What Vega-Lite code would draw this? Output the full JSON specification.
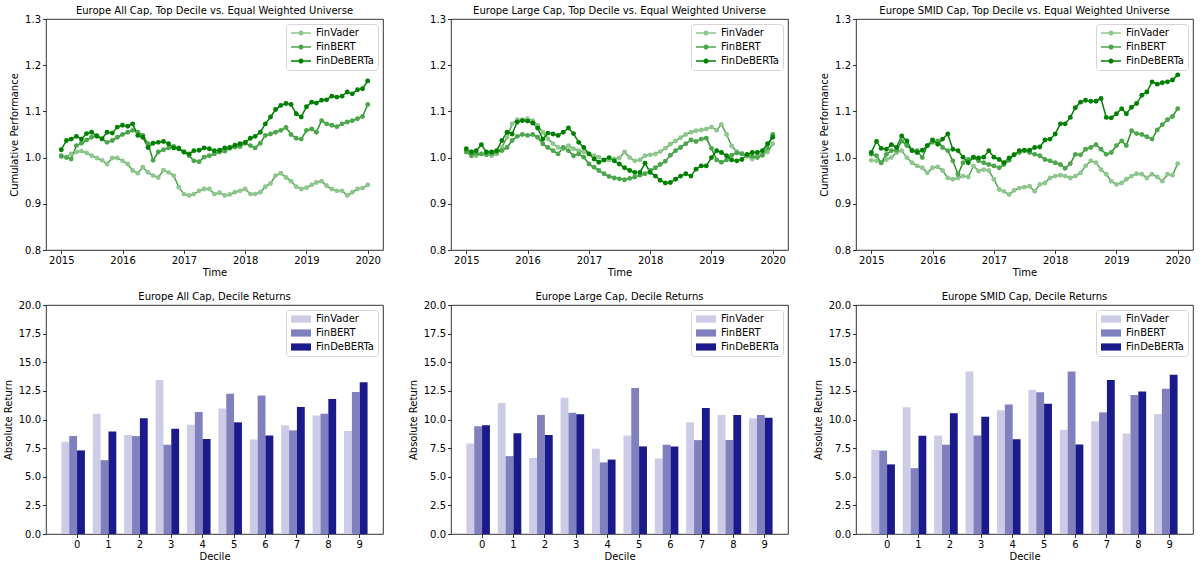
{
  "$schema": "https://vega.github.io/schema/vega-lite/v6.json",
  "background": "white",
  "padding": {"left": 2, "top": 5, "right": 2, "bottom": 2},
  "columns": 3,
  "bounds": "flush",
  "spacing": {"row": 55, "column": 68},
  "resolve": {"scale": {"color": "independent", "fill": "independent", "stroke": "independent", "opacity": "independent", "xOffset": "independent"}, "legend": {"color": "independent", "fill": "independent", "stroke": "independent", "opacity": "independent"}},
  "datasets": {
    "all": [
      {"date": "2015-01-01", "FinVader": 1.002, "FinBERT": 1.004, "FinDeBERTa": 1.017},
      {"date": "2015-02-01", "FinVader": 1.001, "FinBERT": 1.000, "FinDeBERTa": 1.037},
      {"date": "2015-03-01", "FinVader": 1.008, "FinBERT": 0.997, "FinDeBERTa": 1.040},
      {"date": "2015-04-01", "FinVader": 1.012, "FinBERT": 1.026, "FinDeBERTa": 1.046},
      {"date": "2015-05-01", "FinVader": 1.014, "FinBERT": 1.031, "FinDeBERTa": 1.040},
      {"date": "2015-06-01", "FinVader": 1.010, "FinBERT": 1.038, "FinDeBERTa": 1.052},
      {"date": "2015-07-01", "FinVader": 1.004, "FinBERT": 1.044, "FinDeBERTa": 1.055},
      {"date": "2015-08-01", "FinVader": 0.999, "FinBERT": 1.048, "FinDeBERTa": 1.046},
      {"date": "2015-09-01", "FinVader": 0.994, "FinBERT": 1.040, "FinDeBERTa": 1.041},
      {"date": "2015-10-01", "FinVader": 0.986, "FinBERT": 1.033, "FinDeBERTa": 1.055},
      {"date": "2015-11-01", "FinVader": 0.999, "FinBERT": 1.037, "FinDeBERTa": 1.053},
      {"date": "2015-12-01", "FinVader": 0.999, "FinBERT": 1.044, "FinDeBERTa": 1.066},
      {"date": "2016-01-01", "FinVader": 0.993, "FinBERT": 1.050, "FinDeBERTa": 1.070},
      {"date": "2016-02-01", "FinVader": 0.986, "FinBERT": 1.055, "FinDeBERTa": 1.068},
      {"date": "2016-03-01", "FinVader": 0.972, "FinBERT": 1.059, "FinDeBERTa": 1.073},
      {"date": "2016-04-01", "FinVader": 0.966, "FinBERT": 1.055, "FinDeBERTa": 1.048},
      {"date": "2016-05-01", "FinVader": 0.979, "FinBERT": 1.048, "FinDeBERTa": 1.044},
      {"date": "2016-06-01", "FinVader": 0.968, "FinBERT": 1.030, "FinDeBERTa": 1.022},
      {"date": "2016-07-01", "FinVader": 0.961, "FinBERT": 0.994, "FinDeBERTa": 1.031},
      {"date": "2016-08-01", "FinVader": 0.957, "FinBERT": 1.012, "FinDeBERTa": 1.033},
      {"date": "2016-09-01", "FinVader": 0.973, "FinBERT": 1.017, "FinDeBERTa": 1.035},
      {"date": "2016-10-01", "FinVader": 0.968, "FinBERT": 1.021, "FinDeBERTa": 1.030},
      {"date": "2016-11-01", "FinVader": 0.961, "FinBERT": 1.024, "FinDeBERTa": 1.021},
      {"date": "2016-12-01", "FinVader": 0.936, "FinBERT": 1.021, "FinDeBERTa": 1.019},
      {"date": "2017-01-01", "FinVader": 0.921, "FinBERT": 1.012, "FinDeBERTa": 1.012},
      {"date": "2017-02-01", "FinVader": 0.918, "FinBERT": 1.004, "FinDeBERTa": 1.008},
      {"date": "2017-03-01", "FinVader": 0.921, "FinBERT": 0.993, "FinDeBERTa": 1.015},
      {"date": "2017-04-01", "FinVader": 0.928, "FinBERT": 0.991, "FinDeBERTa": 1.016},
      {"date": "2017-05-01", "FinVader": 0.932, "FinBERT": 1.001, "FinDeBERTa": 1.021},
      {"date": "2017-06-01", "FinVader": 0.932, "FinBERT": 1.004, "FinDeBERTa": 1.019},
      {"date": "2017-07-01", "FinVader": 0.921, "FinBERT": 1.008, "FinDeBERTa": 1.015},
      {"date": "2017-08-01", "FinVader": 0.924, "FinBERT": 1.012, "FinDeBERTa": 1.016},
      {"date": "2017-09-01", "FinVader": 0.918, "FinBERT": 1.014, "FinDeBERTa": 1.021},
      {"date": "2017-10-01", "FinVader": 0.920, "FinBERT": 1.020, "FinDeBERTa": 1.022},
      {"date": "2017-11-01", "FinVader": 0.925, "FinBERT": 1.023, "FinDeBERTa": 1.027},
      {"date": "2017-12-01", "FinVader": 0.928, "FinBERT": 1.024, "FinDeBERTa": 1.030},
      {"date": "2018-01-01", "FinVader": 0.932, "FinBERT": 1.031, "FinDeBERTa": 1.033},
      {"date": "2018-02-01", "FinVader": 0.921, "FinBERT": 1.026, "FinDeBERTa": 1.042},
      {"date": "2018-03-01", "FinVader": 0.921, "FinBERT": 1.021, "FinDeBERTa": 1.046},
      {"date": "2018-04-01", "FinVader": 0.925, "FinBERT": 1.031, "FinDeBERTa": 1.055},
      {"date": "2018-05-01", "FinVader": 0.937, "FinBERT": 1.048, "FinDeBERTa": 1.073},
      {"date": "2018-06-01", "FinVader": 0.944, "FinBERT": 1.051, "FinDeBERTa": 1.088},
      {"date": "2018-07-01", "FinVader": 0.961, "FinBERT": 1.055, "FinDeBERTa": 1.104},
      {"date": "2018-08-01", "FinVader": 0.966, "FinBERT": 1.059, "FinDeBERTa": 1.113},
      {"date": "2018-09-01", "FinVader": 0.957, "FinBERT": 1.065, "FinDeBERTa": 1.117},
      {"date": "2018-10-01", "FinVader": 0.949, "FinBERT": 1.050, "FinDeBERTa": 1.115},
      {"date": "2018-11-01", "FinVader": 0.937, "FinBERT": 1.042, "FinDeBERTa": 1.095},
      {"date": "2018-12-01", "FinVader": 0.932, "FinBERT": 1.040, "FinDeBERTa": 1.088},
      {"date": "2019-01-01", "FinVader": 0.935, "FinBERT": 1.059, "FinDeBERTa": 1.110},
      {"date": "2019-02-01", "FinVader": 0.941, "FinBERT": 1.062, "FinDeBERTa": 1.120},
      {"date": "2019-03-01", "FinVader": 0.946, "FinBERT": 1.055, "FinDeBERTa": 1.118},
      {"date": "2019-04-01", "FinVader": 0.949, "FinBERT": 1.080, "FinDeBERTa": 1.124},
      {"date": "2019-05-01", "FinVader": 0.939, "FinBERT": 1.073, "FinDeBERTa": 1.125},
      {"date": "2019-06-01", "FinVader": 0.932, "FinBERT": 1.070, "FinDeBERTa": 1.133},
      {"date": "2019-07-01", "FinVader": 0.928, "FinBERT": 1.067, "FinDeBERTa": 1.131},
      {"date": "2019-08-01", "FinVader": 0.928, "FinBERT": 1.073, "FinDeBERTa": 1.133},
      {"date": "2019-09-01", "FinVader": 0.918, "FinBERT": 1.077, "FinDeBERTa": 1.142},
      {"date": "2019-10-01", "FinVader": 0.925, "FinBERT": 1.080, "FinDeBERTa": 1.138},
      {"date": "2019-11-01", "FinVader": 0.932, "FinBERT": 1.084, "FinDeBERTa": 1.147},
      {"date": "2019-12-01", "FinVader": 0.934, "FinBERT": 1.089, "FinDeBERTa": 1.149},
      {"date": "2020-01-01", "FinVader": 0.941, "FinBERT": 1.115, "FinDeBERTa": 1.166}
    ],
    "large": [
      {"date": "2015-01-01", "FinVader": 1.015, "FinBERT": 1.012, "FinDeBERTa": 1.019},
      {"date": "2015-02-01", "FinVader": 1.012, "FinBERT": 1.004, "FinDeBERTa": 1.012},
      {"date": "2015-03-01", "FinVader": 1.004, "FinBERT": 1.009, "FinDeBERTa": 1.015},
      {"date": "2015-04-01", "FinVader": 1.008, "FinBERT": 1.008, "FinDeBERTa": 1.028},
      {"date": "2015-05-01", "FinVader": 1.008, "FinBERT": 1.006, "FinDeBERTa": 1.012},
      {"date": "2015-06-01", "FinVader": 1.004, "FinBERT": 1.009, "FinDeBERTa": 1.012},
      {"date": "2015-07-01", "FinVader": 1.008, "FinBERT": 1.012, "FinDeBERTa": 1.015},
      {"date": "2015-08-01", "FinVader": 1.022, "FinBERT": 1.015, "FinDeBERTa": 1.037},
      {"date": "2015-09-01", "FinVader": 1.044, "FinBERT": 1.022, "FinDeBERTa": 1.055},
      {"date": "2015-10-01", "FinVader": 1.073, "FinBERT": 1.037, "FinDeBERTa": 1.051},
      {"date": "2015-11-01", "FinVader": 1.082, "FinBERT": 1.046, "FinDeBERTa": 1.077},
      {"date": "2015-12-01", "FinVader": 1.082, "FinBERT": 1.050, "FinDeBERTa": 1.080},
      {"date": "2016-01-01", "FinVader": 1.084, "FinBERT": 1.048, "FinDeBERTa": 1.079},
      {"date": "2016-02-01", "FinVader": 1.080, "FinBERT": 1.050, "FinDeBERTa": 1.075},
      {"date": "2016-03-01", "FinVader": 1.070, "FinBERT": 1.044, "FinDeBERTa": 1.064},
      {"date": "2016-04-01", "FinVader": 1.055, "FinBERT": 1.030, "FinDeBERTa": 1.040},
      {"date": "2016-05-01", "FinVader": 1.041, "FinBERT": 1.022, "FinDeBERTa": 1.053},
      {"date": "2016-06-01", "FinVader": 1.030, "FinBERT": 1.015, "FinDeBERTa": 1.051},
      {"date": "2016-07-01", "FinVader": 1.022, "FinBERT": 1.008, "FinDeBERTa": 1.048},
      {"date": "2016-08-01", "FinVader": 1.019, "FinBERT": 1.022, "FinDeBERTa": 1.055},
      {"date": "2016-09-01", "FinVader": 1.026, "FinBERT": 1.015, "FinDeBERTa": 1.064},
      {"date": "2016-10-01", "FinVader": 1.019, "FinBERT": 1.004, "FinDeBERTa": 1.052},
      {"date": "2016-11-01", "FinVader": 1.015, "FinBERT": 1.008, "FinDeBERTa": 1.033},
      {"date": "2016-12-01", "FinVader": 1.012, "FinBERT": 1.001, "FinDeBERTa": 1.022},
      {"date": "2017-01-01", "FinVader": 1.008, "FinBERT": 0.986, "FinDeBERTa": 1.008},
      {"date": "2017-02-01", "FinVader": 1.004, "FinBERT": 0.979, "FinDeBERTa": 0.997},
      {"date": "2017-03-01", "FinVader": 1.001, "FinBERT": 0.972, "FinDeBERTa": 0.990},
      {"date": "2017-04-01", "FinVader": 0.994, "FinBERT": 0.965, "FinDeBERTa": 0.995},
      {"date": "2017-05-01", "FinVader": 0.995, "FinBERT": 0.959, "FinDeBERTa": 1.000},
      {"date": "2017-06-01", "FinVader": 0.997, "FinBERT": 0.956, "FinDeBERTa": 0.993},
      {"date": "2017-07-01", "FinVader": 0.999, "FinBERT": 0.954, "FinDeBERTa": 0.986},
      {"date": "2017-08-01", "FinVader": 1.012, "FinBERT": 0.952, "FinDeBERTa": 0.978},
      {"date": "2017-09-01", "FinVader": 1.000, "FinBERT": 0.955, "FinDeBERTa": 0.972},
      {"date": "2017-10-01", "FinVader": 0.993, "FinBERT": 0.958, "FinDeBERTa": 0.968},
      {"date": "2017-11-01", "FinVader": 0.995, "FinBERT": 0.962, "FinDeBERTa": 0.968},
      {"date": "2017-12-01", "FinVader": 1.004, "FinBERT": 0.965, "FinDeBERTa": 0.988},
      {"date": "2018-01-01", "FinVader": 1.006, "FinBERT": 0.972, "FinDeBERTa": 0.968},
      {"date": "2018-02-01", "FinVader": 1.008, "FinBERT": 0.978, "FinDeBERTa": 0.960},
      {"date": "2018-03-01", "FinVader": 1.013, "FinBERT": 0.985, "FinDeBERTa": 0.951},
      {"date": "2018-04-01", "FinVader": 1.020, "FinBERT": 0.992, "FinDeBERTa": 0.945},
      {"date": "2018-05-01", "FinVader": 1.029, "FinBERT": 1.005, "FinDeBERTa": 0.946},
      {"date": "2018-06-01", "FinVader": 1.036, "FinBERT": 1.015, "FinDeBERTa": 0.953},
      {"date": "2018-07-01", "FinVader": 1.043, "FinBERT": 1.022, "FinDeBERTa": 0.960},
      {"date": "2018-08-01", "FinVader": 1.050, "FinBERT": 1.030, "FinDeBERTa": 0.965},
      {"date": "2018-09-01", "FinVader": 1.055, "FinBERT": 1.038, "FinDeBERTa": 0.960},
      {"date": "2018-10-01", "FinVader": 1.058, "FinBERT": 1.035, "FinDeBERTa": 0.975},
      {"date": "2018-11-01", "FinVader": 1.060, "FinBERT": 1.040, "FinDeBERTa": 0.982},
      {"date": "2018-12-01", "FinVader": 1.062, "FinBERT": 1.042, "FinDeBERTa": 0.982},
      {"date": "2019-01-01", "FinVader": 1.066, "FinBERT": 1.020, "FinDeBERTa": 1.000},
      {"date": "2019-02-01", "FinVader": 1.059, "FinBERT": 0.995, "FinDeBERTa": 1.015},
      {"date": "2019-03-01", "FinVader": 1.072, "FinBERT": 0.990, "FinDeBERTa": 1.011},
      {"date": "2019-04-01", "FinVader": 1.050, "FinBERT": 0.995, "FinDeBERTa": 1.004},
      {"date": "2019-05-01", "FinVader": 1.025, "FinBERT": 1.005, "FinDeBERTa": 0.995},
      {"date": "2019-06-01", "FinVader": 1.013, "FinBERT": 1.010, "FinDeBERTa": 0.993},
      {"date": "2019-07-01", "FinVader": 1.009, "FinBERT": 1.008, "FinDeBERTa": 0.996},
      {"date": "2019-08-01", "FinVader": 1.003, "FinBERT": 1.005, "FinDeBERTa": 1.007},
      {"date": "2019-09-01", "FinVader": 0.997, "FinBERT": 1.003, "FinDeBERTa": 1.011},
      {"date": "2019-10-01", "FinVader": 1.004, "FinBERT": 1.000, "FinDeBERTa": 1.011},
      {"date": "2019-11-01", "FinVader": 1.008, "FinBERT": 1.005, "FinDeBERTa": 1.015},
      {"date": "2019-12-01", "FinVader": 1.012, "FinBERT": 1.020, "FinDeBERTa": 1.030},
      {"date": "2020-01-01", "FinVader": 1.030, "FinBERT": 1.050, "FinDeBERTa": 1.044}
    ],
    "smid": [
      {"date": "2015-01-01", "FinVader": 0.994, "FinBERT": 1.007, "FinDeBERTa": 1.011},
      {"date": "2015-02-01", "FinVader": 0.993, "FinBERT": 1.004, "FinDeBERTa": 1.035},
      {"date": "2015-03-01", "FinVader": 0.989, "FinBERT": 0.989, "FinDeBERTa": 1.020},
      {"date": "2015-04-01", "FinVader": 0.996, "FinBERT": 1.007, "FinDeBERTa": 1.018},
      {"date": "2015-05-01", "FinVader": 1.000, "FinBERT": 1.015, "FinDeBERTa": 1.028},
      {"date": "2015-06-01", "FinVader": 1.011, "FinBERT": 1.016, "FinDeBERTa": 1.022},
      {"date": "2015-07-01", "FinVader": 1.015, "FinBERT": 1.036, "FinDeBERTa": 1.047},
      {"date": "2015-08-01", "FinVader": 1.000, "FinBERT": 1.026, "FinDeBERTa": 1.036},
      {"date": "2015-09-01", "FinVader": 0.989, "FinBERT": 1.016, "FinDeBERTa": 1.015},
      {"date": "2015-10-01", "FinVader": 0.982, "FinBERT": 1.015, "FinDeBERTa": 1.011},
      {"date": "2015-11-01", "FinVader": 0.978, "FinBERT": 1.000, "FinDeBERTa": 1.016},
      {"date": "2015-12-01", "FinVader": 0.967, "FinBERT": 1.026, "FinDeBERTa": 1.026},
      {"date": "2016-01-01", "FinVader": 0.978, "FinBERT": 1.033, "FinDeBERTa": 1.038},
      {"date": "2016-02-01", "FinVader": 0.980, "FinBERT": 1.036, "FinDeBERTa": 1.029},
      {"date": "2016-03-01", "FinVader": 0.972, "FinBERT": 1.022, "FinDeBERTa": 1.040},
      {"date": "2016-04-01", "FinVader": 0.956, "FinBERT": 1.015, "FinDeBERTa": 1.051},
      {"date": "2016-05-01", "FinVader": 0.953, "FinBERT": 0.993, "FinDeBERTa": 1.018},
      {"date": "2016-06-01", "FinVader": 0.956, "FinBERT": 0.964, "FinDeBERTa": 1.015},
      {"date": "2016-07-01", "FinVader": 0.960, "FinBERT": 0.989, "FinDeBERTa": 1.001},
      {"date": "2016-08-01", "FinVader": 0.958, "FinBERT": 0.996, "FinDeBERTa": 0.989},
      {"date": "2016-09-01", "FinVader": 0.982, "FinBERT": 1.000, "FinDeBERTa": 1.001},
      {"date": "2016-10-01", "FinVader": 0.971, "FinBERT": 0.993, "FinDeBERTa": 0.999},
      {"date": "2016-11-01", "FinVader": 0.974, "FinBERT": 0.989, "FinDeBERTa": 1.001},
      {"date": "2016-12-01", "FinVader": 0.972, "FinBERT": 0.985, "FinDeBERTa": 1.015},
      {"date": "2017-01-01", "FinVader": 0.953, "FinBERT": 0.982, "FinDeBERTa": 1.001},
      {"date": "2017-02-01", "FinVader": 0.931, "FinBERT": 0.978, "FinDeBERTa": 0.996},
      {"date": "2017-03-01", "FinVader": 0.927, "FinBERT": 0.985, "FinDeBERTa": 0.989},
      {"date": "2017-04-01", "FinVader": 0.920, "FinBERT": 0.994, "FinDeBERTa": 0.999},
      {"date": "2017-05-01", "FinVader": 0.929, "FinBERT": 1.007, "FinDeBERTa": 1.006},
      {"date": "2017-06-01", "FinVader": 0.934, "FinBERT": 1.011, "FinDeBERTa": 1.015},
      {"date": "2017-07-01", "FinVader": 0.936, "FinBERT": 1.015, "FinDeBERTa": 1.016},
      {"date": "2017-08-01", "FinVader": 0.938, "FinBERT": 1.011, "FinDeBERTa": 1.016},
      {"date": "2017-09-01", "FinVader": 0.927, "FinBERT": 1.007, "FinDeBERTa": 1.022},
      {"date": "2017-10-01", "FinVader": 0.942, "FinBERT": 1.004, "FinDeBERTa": 1.023},
      {"date": "2017-11-01", "FinVader": 0.945, "FinBERT": 0.996, "FinDeBERTa": 1.038},
      {"date": "2017-12-01", "FinVader": 0.956, "FinBERT": 0.993, "FinDeBERTa": 1.040},
      {"date": "2018-01-01", "FinVader": 0.960, "FinBERT": 0.989, "FinDeBERTa": 1.051},
      {"date": "2018-02-01", "FinVader": 0.962, "FinBERT": 0.985, "FinDeBERTa": 1.073},
      {"date": "2018-03-01", "FinVader": 0.960, "FinBERT": 0.977, "FinDeBERTa": 1.073},
      {"date": "2018-04-01", "FinVader": 0.956, "FinBERT": 0.987, "FinDeBERTa": 1.087},
      {"date": "2018-05-01", "FinVader": 0.960, "FinBERT": 1.007, "FinDeBERTa": 1.108},
      {"date": "2018-06-01", "FinVader": 0.967, "FinBERT": 1.006, "FinDeBERTa": 1.120},
      {"date": "2018-07-01", "FinVader": 0.982, "FinBERT": 1.018, "FinDeBERTa": 1.124},
      {"date": "2018-08-01", "FinVader": 0.993, "FinBERT": 1.022, "FinDeBERTa": 1.122},
      {"date": "2018-09-01", "FinVader": 0.989, "FinBERT": 1.028, "FinDeBERTa": 1.122},
      {"date": "2018-10-01", "FinVader": 0.974, "FinBERT": 1.018, "FinDeBERTa": 1.128},
      {"date": "2018-11-01", "FinVader": 0.964, "FinBERT": 1.007, "FinDeBERTa": 1.087},
      {"date": "2018-12-01", "FinVader": 0.949, "FinBERT": 1.011, "FinDeBERTa": 1.086},
      {"date": "2019-01-01", "FinVader": 0.942, "FinBERT": 1.026, "FinDeBERTa": 1.095},
      {"date": "2019-02-01", "FinVader": 0.945, "FinBERT": 1.036, "FinDeBERTa": 1.106},
      {"date": "2019-03-01", "FinVader": 0.953, "FinBERT": 1.026, "FinDeBERTa": 1.095},
      {"date": "2019-04-01", "FinVader": 0.960, "FinBERT": 1.058, "FinDeBERTa": 1.109},
      {"date": "2019-05-01", "FinVader": 0.965, "FinBERT": 1.052, "FinDeBERTa": 1.117},
      {"date": "2019-06-01", "FinVader": 0.964, "FinBERT": 1.050, "FinDeBERTa": 1.135},
      {"date": "2019-07-01", "FinVader": 0.956, "FinBERT": 1.045, "FinDeBERTa": 1.142},
      {"date": "2019-08-01", "FinVader": 0.964, "FinBERT": 1.040, "FinDeBERTa": 1.164},
      {"date": "2019-09-01", "FinVader": 0.958, "FinBERT": 1.060, "FinDeBERTa": 1.159},
      {"date": "2019-10-01", "FinVader": 0.949, "FinBERT": 1.071, "FinDeBERTa": 1.162},
      {"date": "2019-11-01", "FinVader": 0.964, "FinBERT": 1.082, "FinDeBERTa": 1.164},
      {"date": "2019-12-01", "FinVader": 0.962, "FinBERT": 1.089, "FinDeBERTa": 1.168},
      {"date": "2020-01-01", "FinVader": 0.987, "FinBERT": 1.106, "FinDeBERTa": 1.179}
    ],
    "bars_all": [
      {"decile": 0, "FinVader": 8.05, "FinBERT": 8.55, "FinDeBERTa": 7.3},
      {"decile": 1, "FinVader": 10.5, "FinBERT": 6.45, "FinDeBERTa": 8.95},
      {"decile": 2, "FinVader": 8.65, "FinBERT": 8.55, "FinDeBERTa": 10.1},
      {"decile": 3, "FinVader": 13.45, "FinBERT": 7.8, "FinDeBERTa": 9.2},
      {"decile": 4, "FinVader": 9.55, "FinBERT": 10.65, "FinDeBERTa": 8.3},
      {"decile": 5, "FinVader": 10.95, "FinBERT": 12.25, "FinDeBERTa": 9.75},
      {"decile": 6, "FinVader": 8.25, "FinBERT": 12.1, "FinDeBERTa": 8.6},
      {"decile": 7, "FinVader": 9.5, "FinBERT": 9.05, "FinDeBERTa": 11.1},
      {"decile": 8, "FinVader": 10.35, "FinBERT": 10.5, "FinDeBERTa": 11.8},
      {"decile": 9, "FinVader": 9.0, "FinBERT": 12.4, "FinDeBERTa": 13.25}
    ],
    "bars_large": [
      {"decile": 0, "FinVader": 7.9, "FinBERT": 9.4, "FinDeBERTa": 9.5},
      {"decile": 1, "FinVader": 11.45, "FinBERT": 6.8, "FinDeBERTa": 8.8},
      {"decile": 2, "FinVader": 6.65, "FinBERT": 10.4, "FinDeBERTa": 8.65},
      {"decile": 3, "FinVader": 11.9, "FinBERT": 10.6, "FinDeBERTa": 10.45},
      {"decile": 4, "FinVader": 7.45, "FinBERT": 6.25, "FinDeBERTa": 6.5},
      {"decile": 5, "FinVader": 8.6, "FinBERT": 12.75, "FinDeBERTa": 7.65},
      {"decile": 6, "FinVader": 6.6, "FinBERT": 7.8, "FinDeBERTa": 7.65},
      {"decile": 7, "FinVader": 9.75, "FinBERT": 8.2, "FinDeBERTa": 11.0},
      {"decile": 8, "FinVader": 10.4, "FinBERT": 8.2, "FinDeBERTa": 10.4},
      {"decile": 9, "FinVader": 10.1, "FinBERT": 10.4, "FinDeBERTa": 10.15}
    ],
    "bars_smid": [
      {"decile": 0, "FinVader": 7.35, "FinBERT": 7.28, "FinDeBERTa": 6.08},
      {"decile": 1, "FinVader": 11.08, "FinBERT": 5.75, "FinDeBERTa": 8.58},
      {"decile": 2, "FinVader": 8.6, "FinBERT": 7.8, "FinDeBERTa": 10.55},
      {"decile": 3, "FinVader": 14.2, "FinBERT": 8.6, "FinDeBERTa": 10.25},
      {"decile": 4, "FinVader": 10.8, "FinBERT": 11.3, "FinDeBERTa": 8.28},
      {"decile": 5, "FinVader": 12.6, "FinBERT": 12.38, "FinDeBERTa": 11.38},
      {"decile": 6, "FinVader": 9.1, "FinBERT": 14.2, "FinDeBERTa": 7.82},
      {"decile": 7, "FinVader": 9.82, "FinBERT": 10.62, "FinDeBERTa": 13.45},
      {"decile": 8, "FinVader": 8.78, "FinBERT": 12.15, "FinDeBERTa": 12.45},
      {"decile": 9, "FinVader": 10.48, "FinBERT": 12.68, "FinDeBERTa": 13.9}
    ]
  },
  "concat": [
    {
      "title": "Europe All Cap, Top Decile vs. Equal Weighted Universe",
      "width": 337, "height": 231,
      "data": {"name": "all"},
      "transform": [{"fold": ["FinVader", "FinBERT", "FinDeBERTa"], "as": ["model", "value"]}],
      "encoding": {
        "x": {"field": "date", "type": "temporal", "scale": {"domain": [{"year": 2014, "month": 10, "date": 2}, {"year": 2020, "month": 4, "date": 1}]}, "axis": {"title": "Time", "format": "%Y", "tickCount": {"interval": "year", "step": 1}}},
        "y": {"field": "value", "type": "quantitative", "scale": {"domain": [0.8, 1.3], "nice": false, "zero": false}, "axis": {"title": "Cumulative Performance", "values": [0.8, 0.9, 1.0, 1.1, 1.2, 1.3], "format": ".1f"}}
      },
      "layer": [
        {"mark": {"type": "line", "strokeWidth": 1.5},
         "encoding": {
           "stroke": {"field": "model", "type": "nominal", "scale": {"domain": ["FinBERT", "FinVader", "FinDeBERTa"], "range": ["#008000", "#008000", "#008000"]}, "legend": null},
           "opacity": {"field": "model", "type": "nominal", "scale": {"domain": ["FinDeBERTa", "FinBERT", "FinVader"], "range": [1, 0.7, 0.4]}, "legend": null}
         }},
        {"mark": {"type": "point", "filled": true, "size": 24, "opacity": 1},
         "encoding": {
           "fill": {"field": "model", "type": "nominal", "scale": {"domain": ["FinVader", "FinBERT", "FinDeBERTa"], "range": ["#8fc78f", "#4ca64c", "#008000"]}, "legend": {"title": null, "symbolType": "M-2.5,-0.19H2.5V0.19H-2.5Z M-0.65,0A0.65,0.65 0 1,1 0.65,0A0.65,0.65 0 1,1 -0.65,0Z"}}
         }}
      ]
    },
    {
      "title": "Europe Large Cap, Top Decile vs. Equal Weighted Universe",
      "width": 337, "height": 231,
      "data": {"name": "large"},
      "transform": [{"fold": ["FinVader", "FinBERT", "FinDeBERTa"], "as": ["model", "value"]}],
      "encoding": {
        "x": {"field": "date", "type": "temporal", "scale": {"domain": [{"year": 2014, "month": 10, "date": 2}, {"year": 2020, "month": 4, "date": 1}]}, "axis": {"title": "Time", "format": "%Y", "tickCount": {"interval": "year", "step": 1}}},
        "y": {"field": "value", "type": "quantitative", "scale": {"domain": [0.8, 1.3], "nice": false, "zero": false}, "axis": {"title": null, "values": [0.8, 0.9, 1.0, 1.1, 1.2, 1.3], "format": ".1f"}}
      },
      "layer": [
        {"mark": {"type": "line", "strokeWidth": 1.5},
         "encoding": {
           "stroke": {"field": "model", "type": "nominal", "scale": {"domain": ["FinBERT", "FinVader", "FinDeBERTa"], "range": ["#008000", "#008000", "#008000"]}, "legend": null},
           "opacity": {"field": "model", "type": "nominal", "scale": {"domain": ["FinDeBERTa", "FinBERT", "FinVader"], "range": [1, 0.7, 0.4]}, "legend": null}
         }},
        {"mark": {"type": "point", "filled": true, "size": 24, "opacity": 1},
         "encoding": {
           "fill": {"field": "model", "type": "nominal", "scale": {"domain": ["FinVader", "FinBERT", "FinDeBERTa"], "range": ["#8fc78f", "#4ca64c", "#008000"]}, "legend": {"title": null, "symbolType": "M-2.5,-0.19H2.5V0.19H-2.5Z M-0.65,0A0.65,0.65 0 1,1 0.65,0A0.65,0.65 0 1,1 -0.65,0Z"}}
         }}
      ]
    },
    {
      "title": "Europe SMID Cap, Top Decile vs. Equal Weighted Universe",
      "width": 337, "height": 231,
      "data": {"name": "smid"},
      "transform": [{"fold": ["FinVader", "FinBERT", "FinDeBERTa"], "as": ["model", "value"]}],
      "encoding": {
        "x": {"field": "date", "type": "temporal", "scale": {"domain": [{"year": 2014, "month": 10, "date": 2}, {"year": 2020, "month": 4, "date": 1}]}, "axis": {"title": "Time", "format": "%Y", "tickCount": {"interval": "year", "step": 1}}},
        "y": {"field": "value", "type": "quantitative", "scale": {"domain": [0.8, 1.3], "nice": false, "zero": false}, "axis": {"title": "Cumulative Performance", "values": [0.8, 0.9, 1.0, 1.1, 1.2, 1.3], "format": ".1f"}}
      },
      "layer": [
        {"mark": {"type": "line", "strokeWidth": 1.5},
         "encoding": {
           "stroke": {"field": "model", "type": "nominal", "scale": {"domain": ["FinBERT", "FinVader", "FinDeBERTa"], "range": ["#008000", "#008000", "#008000"]}, "legend": null},
           "opacity": {"field": "model", "type": "nominal", "scale": {"domain": ["FinDeBERTa", "FinBERT", "FinVader"], "range": [1, 0.7, 0.4]}, "legend": null}
         }},
        {"mark": {"type": "point", "filled": true, "size": 24, "opacity": 1},
         "encoding": {
           "fill": {"field": "model", "type": "nominal", "scale": {"domain": ["FinVader", "FinBERT", "FinDeBERTa"], "range": ["#8fc78f", "#4ca64c", "#008000"]}, "legend": {"title": null, "symbolType": "M-2.5,-0.19H2.5V0.19H-2.5Z M-0.65,0A0.65,0.65 0 1,1 0.65,0A0.65,0.65 0 1,1 -0.65,0Z"}}
         }}
      ]
    },
    {
      "title": "Europe All Cap, Decile Returns",
      "width": 337, "height": 229,
      "data": {"name": "bars_all"},
      "transform": [{"fold": ["FinVader", "FinBERT", "FinDeBERTa"], "as": ["model", "value"]}],
      "mark": {"type": "bar"},
      "encoding": {
        "x": {"field": "decile", "type": "ordinal", "scale": {"paddingInner": 0, "paddingOuter": 0.365, "align": 0.67}, "axis": {"title": "Decile", "labelAngle": 0}},
        "xOffset": {"field": "model", "type": "nominal", "scale": {"domain": ["FinVader", "FinBERT", "FinDeBERTa", "pad"], "paddingInner": 0, "paddingOuter": 0}},
        "y": {"field": "value", "type": "quantitative", "scale": {"domain": [0, 20], "nice": false}, "axis": {"title": "Absolute Return", "values": [0, 2.5, 5, 7.5, 10, 12.5, 15, 17.5, 20], "format": ".1f"}},
        "color": {"field": "model", "type": "nominal", "scale": {"domain": ["FinVader", "FinBERT", "FinDeBERTa"], "range": ["#ccccE6", "#8080bf", "#1a1a8c"]}, "legend": {"title": null, "symbolType": "M-2.5,-0.9H2.5V0.9H-2.5Z"}}
      }
    },
    {
      "title": "Europe Large Cap, Decile Returns",
      "width": 337, "height": 229,
      "data": {"name": "bars_large"},
      "transform": [{"fold": ["FinVader", "FinBERT", "FinDeBERTa"], "as": ["model", "value"]}],
      "mark": {"type": "bar"},
      "encoding": {
        "x": {"field": "decile", "type": "ordinal", "scale": {"paddingInner": 0, "paddingOuter": 0.365, "align": 0.67}, "axis": {"title": "Decile", "labelAngle": 0}},
        "xOffset": {"field": "model", "type": "nominal", "scale": {"domain": ["FinVader", "FinBERT", "FinDeBERTa", "pad"], "paddingInner": 0, "paddingOuter": 0}},
        "y": {"field": "value", "type": "quantitative", "scale": {"domain": [0, 20], "nice": false}, "axis": {"title": "Absolute Return", "values": [0, 2.5, 5, 7.5, 10, 12.5, 15, 17.5, 20], "format": ".1f"}},
        "color": {"field": "model", "type": "nominal", "scale": {"domain": ["FinVader", "FinBERT", "FinDeBERTa"], "range": ["#ccccE6", "#8080bf", "#1a1a8c"]}, "legend": {"title": null, "symbolType": "M-2.5,-0.9H2.5V0.9H-2.5Z"}}
      }
    },
    {
      "title": "Europe SMID Cap, Decile Returns",
      "width": 337, "height": 229,
      "data": {"name": "bars_smid"},
      "transform": [{"fold": ["FinVader", "FinBERT", "FinDeBERTa"], "as": ["model", "value"]}],
      "mark": {"type": "bar"},
      "encoding": {
        "x": {"field": "decile", "type": "ordinal", "scale": {"paddingInner": 0, "paddingOuter": 0.365, "align": 0.67}, "axis": {"title": "Decile", "labelAngle": 0}},
        "xOffset": {"field": "model", "type": "nominal", "scale": {"domain": ["FinVader", "FinBERT", "FinDeBERTa", "pad"], "paddingInner": 0, "paddingOuter": 0}},
        "y": {"field": "value", "type": "quantitative", "scale": {"domain": [0, 20], "nice": false}, "axis": {"title": "Absolute Return", "values": [0, 2.5, 5, 7.5, 10, 12.5, 15, 17.5, 20], "format": ".1f"}},
        "color": {"field": "model", "type": "nominal", "scale": {"domain": ["FinVader", "FinBERT", "FinDeBERTa"], "range": ["#ccccE6", "#8080bf", "#1a1a8c"]}, "legend": {"title": null, "symbolType": "M-2.5,-0.9H2.5V0.9H-2.5Z"}}
      }
    }
  ],
  "config": {
    "font": "DejaVu Sans",
    "view": {"stroke": "#000", "strokeWidth": 0.8},
    "axis": {"grid": false, "domain": false, "tickColor": "#000", "tickSize": 3.5, "tickWidth": 0.8, "labelFontSize": 10, "labelColor": "#000", "labelPadding": 2, "titleFontSize": 10, "titleFontWeight": "normal", "titleColor": "#000", "labelFlush": false, "labelOverlap": false},
    "axisX": {"titlePadding": 2},
    "axisY": {"titlePadding": 5},
    "title": {"fontSize": 10, "fontWeight": "normal", "color": "#000", "offset": -1.5, "anchor": "middle", "frame": "group"},
    "legend": {"orient": "top-right", "offset": 5, "padding": 4, "strokeColor": "#d6d6d6", "fillColor": "white", "cornerRadius": 3, "labelFontSize": 10, "labelColor": "#000", "symbolSize": 64, "rowPadding": 4, "labelOffset": 10, "symbolOffset": 6}
  }
}
